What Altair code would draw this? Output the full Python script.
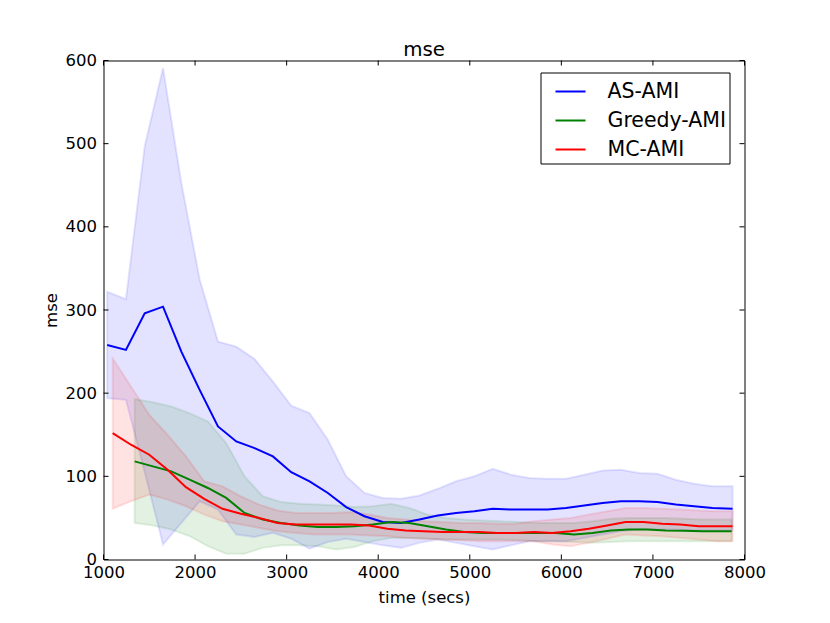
import altair as alt
import pandas as pd

# ---------------- data ----------------
series_names = ["AS-AMI", "Greedy-AMI", "MC-AMI"]
series_colors = ["#0000ff", "#008000", "#ff0000"]

as_time = [1040, 1245, 1450, 1650, 1850, 2050, 2250, 2450, 2650, 2850, 3050, 3250,
           3450, 3650, 3850, 4050, 4250, 4450, 4650, 4850, 5050, 5250, 5450, 5650,
           5850, 6050, 6250, 6450, 6650, 6850, 7050, 7250, 7450, 7650, 7870]
as_mean = [258, 252, 296, 304, 250, 204, 160, 142, 134, 124, 105, 94,
           80, 63, 52, 45, 44, 48, 53, 56, 58, 61, 60, 60,
           60, 62, 65, 68, 70, 70, 69, 66, 64, 62, 61]
as_hi = [322, 313, 497, 591, 453, 337, 262, 256, 241, 214, 185, 176,
         144, 100, 80, 74, 73, 77, 85, 94, 100, 109, 102, 98,
         97, 97, 102, 107, 108, 104, 103, 96, 91, 88, 88]
as_lo = [194, 192, 105, 18, 44, 70, 60, 30, 27, 32, 25, 13,
         21, 25, 21, 17, 14, 20, 24, 20, 16, 12, 17, 22,
         22, 22, 26, 30, 34, 36, 36, 36, 35, 35, 35]

gr_time = [1340, 1540, 1740, 1940, 2140, 2340, 2540, 2740, 2940, 3140, 3340, 3540,
           3740, 3940, 4140, 4340, 4540, 4740, 4940, 5140, 5340, 5540, 5740, 5940,
           6140, 6340, 6540, 6740, 6940, 7140, 7340, 7540, 7740, 7860]
gr_mean = [118, 112, 106, 96, 86, 74, 56, 48, 44, 41, 39, 39,
           40, 42, 45, 44, 40, 36, 33, 32, 32, 32, 32, 32,
           30, 32, 35, 36, 36, 35, 34.5, 34, 34, 34]
gr_hi = [193, 189, 184, 176, 166, 140, 100, 76, 69, 67, 66, 65,
         63, 64, 67, 62, 54, 50, 48, 47, 46, 45, 44, 44,
         44, 46, 49, 50, 50, 50, 49, 48, 48, 48]
gr_lo = [44, 41, 36, 28, 16, 7, 7, 14, 17, 17, 16, 12,
         15, 22, 26, 26, 25, 24, 24, 24, 24, 23, 22, 22,
         21, 20, 21, 22, 22, 22, 22, 22, 22, 22]

mc_time = [1100, 1300, 1500, 1700, 1900, 2100, 2300, 2500, 2700, 2900, 3100, 3300,
           3500, 3700, 3900, 4100, 4300, 4500, 4700, 4900, 5100, 5300, 5500, 5700,
           5900, 6100, 6300, 6500, 6700, 6900, 7100, 7300, 7500, 7700, 7870]
mc_mean = [152, 138, 126, 108, 87, 73, 61, 55, 50, 44, 42, 42,
           42, 42, 41, 37, 35, 34, 33, 33, 33, 32, 32, 33,
           32, 34, 37, 41, 45, 45, 43, 42, 40, 40, 40]
mc_hi = [242, 208, 174, 150, 124, 94, 88, 76, 66, 59, 56, 56,
         56, 57, 54, 50, 48, 46, 45, 44, 44, 43, 43, 46,
         48, 50, 54, 58, 62, 62, 61, 60, 59, 58, 58]
mc_lo = [61, 70, 78, 72, 64, 54, 46, 42, 38, 34, 32, 30,
         30, 30, 29, 28, 26, 25, 24, 23, 22, 22, 22, 22,
         18, 16, 20, 25, 30, 29, 28, 26, 24, 22, 22]

x_ticks = [1000, 2000, 3000, 4000, 5000, 6000, 7000, 8000]
y_ticks = [0, 100, 200, 300, 400, 500, 600]

# ---------------- build tables ----------------
def table(name, t, m, lo, hi):
    return pd.DataFrame({"time": t, "mse": m, "lo": lo, "hi": hi, "series": name})

frames = [
    table(series_names[0], as_time, as_mean, as_lo, as_hi),
    table(series_names[1], gr_time, gr_mean, gr_lo, gr_hi),
    table(series_names[2], mc_time, mc_mean, mc_lo, mc_hi),
]
all_df = pd.concat(frames, ignore_index=True)
xt_df = pd.DataFrame({"time": x_ticks})
yt_df = pd.DataFrame({"mse": y_ticks})

W, H = 641, 499
FONT = "DejaVu Sans"
FS = 16.5
TICK = 5

x_scale = alt.Scale(domain=[1000, 8000], nice=False, zero=False)
y_scale = alt.Scale(domain=[0, 600], nice=False, zero=False)

x_axis = alt.Axis(values=x_ticks, format="d", grid=False, ticks=False, tickSize=0,
                  domain=False, labelFlush=False, labelOverlap=False,
                  labelFont=FONT, labelFontSize=FS, labelColor="black", labelPadding=5,
                  title="time (secs)", titleFont=FONT, titleFontSize=FS,
                  titleFontWeight="normal", titleColor="black", titlePadding=8)
y_axis = alt.Axis(values=y_ticks, format="d", grid=False, ticks=False, tickSize=0,
                  domain=False, labelFlush=False, labelOverlap=False,
                  labelFont=FONT, labelFontSize=FS, labelColor="black", labelPadding=7,
                  title="mse", titleFont=FONT, titleFontSize=FS,
                  titleFontWeight="normal", titleColor="black", titlePadding=6)

X = alt.X("time:Q", scale=x_scale, axis=x_axis)
Y = alt.Y("mse:Q", scale=y_scale, axis=y_axis)

layers = []
# shaded bands
for name, col, df in zip(series_names, series_colors, frames):
    band = alt.Chart(df).mark_area(
        fill=col, fillOpacity=0.11, stroke=col, strokeOpacity=0.1, strokeWidth=2
    ).encode(x=X, y=alt.Y("lo:Q", scale=y_scale, axis=y_axis), y2="hi:Q")
    layers.append(band)

# mean lines with legend
lines = alt.Chart(all_df).mark_line(strokeWidth=2).encode(
    x=X, y=Y,
    color=alt.Color("series:N",
                    scale=alt.Scale(domain=series_names, range=series_colors),
                    legend=alt.Legend(title=None, orient="none", legendX=437, legendY=12,
                                      symbolType="stroke", symbolSize=900,
                                      symbolStrokeWidth=2, labelFont=FONT,
                                      labelFontSize=20.5, labelColor="black",
                                      padding=3, symbolOffset=11, labelOffset=21,
                                      rowPadding=2, strokeColor="black",
                                      fillColor="white", cornerRadius=0)),
)
layers.append(lines)

# inward ticks on all four sides (matplotlib classic style)
tb = alt.Chart(xt_df).mark_rule(color="black", strokeWidth=1).encode(
    x=X, y=alt.value(H), y2=alt.value(H - TICK))
tt = alt.Chart(xt_df).mark_rule(color="black", strokeWidth=1).encode(
    x=X, y=alt.value(0), y2=alt.value(TICK))
tl = alt.Chart(yt_df).mark_rule(color="black", strokeWidth=1).encode(
    y=Y, x=alt.value(0), x2=alt.value(TICK))
tr = alt.Chart(yt_df).mark_rule(color="black", strokeWidth=1).encode(
    y=Y, x=alt.value(W), x2=alt.value(W - TICK))
layers += [tb, tt, tl, tr]

chart = alt.layer(*layers).properties(
    width=W, height=H,
    background="white",
    title=alt.TitleParams("mse", font=FONT, fontSize=19.8, fontWeight="normal",
                          color="black", anchor="middle", baseline="alphabetic",
                          offset=-23, frame="group"),
    autosize=alt.AutoSizeParams(type="none"),
    padding={"left": 95.5, "top": 52.5, "right": 55, "bottom": 50},
).configure_view(stroke="black", strokeWidth=1)

chart.save("out.html", embed_options={"renderer": "svg", "actions": False})
